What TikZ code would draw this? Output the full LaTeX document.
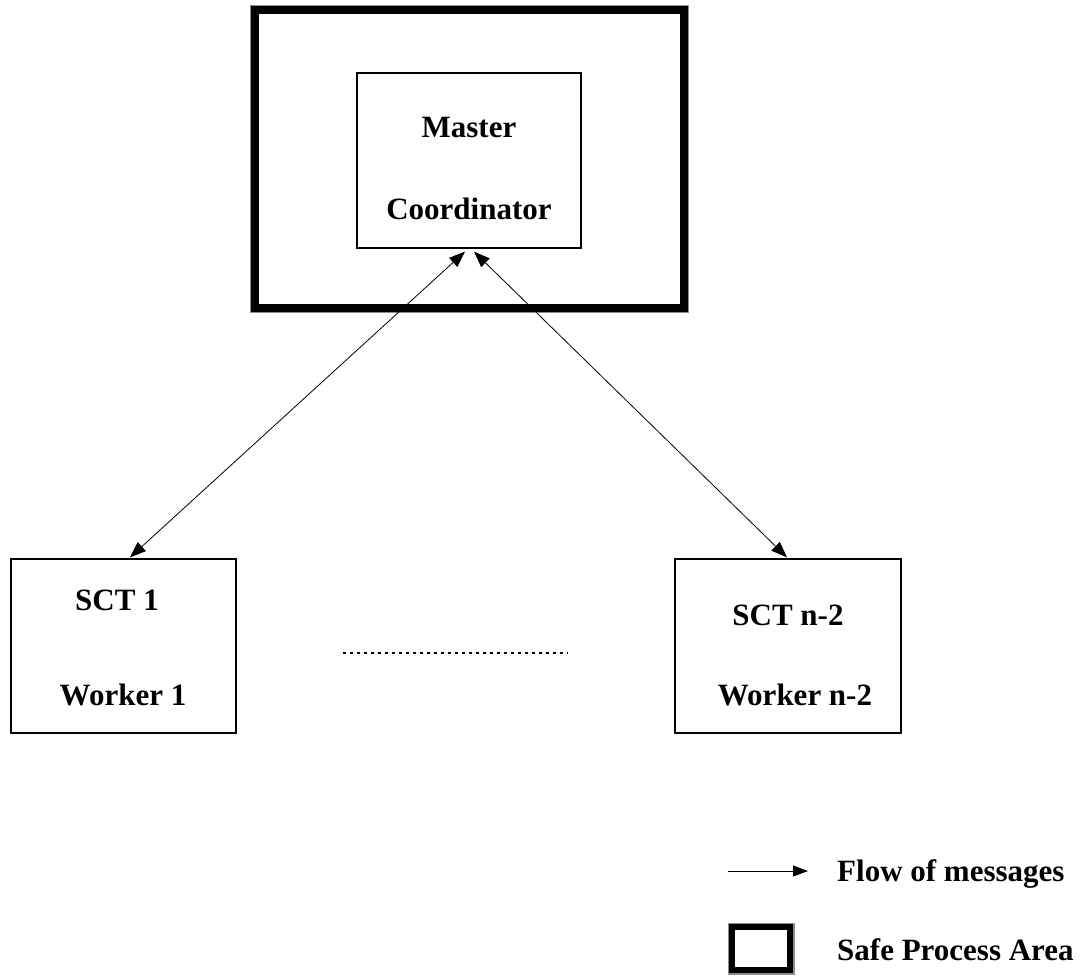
\documentclass[tikz,border=0pt]{standalone}
\usepackage{fontspec}
\setmainfont{Liberation Serif}
\usetikzlibrary{arrows.meta}
\begin{document}
\begin{tikzpicture}[x=1pt,y=-1pt,
  lbl/.style={font=\fontsize{31}{34}\selectfont\bfseries, inner sep=0pt, anchor=base},
  lbll/.style={font=\fontsize{31}{34}\selectfont\bfseries, inner sep=0pt, anchor=base west},
  plainbox/.style={draw=black, line width=1.2pt, inner sep=0pt},
  safebox/.style={draw=black, line width=8pt},
  safeedge/.style={draw=black!45, line width=1.5pt},
  msg/.style={line width=0.8pt, {Triangle[length=16pt,width=12pt]}-{Triangle[length=16pt,width=12pt]}},
  msgone/.style={line width=1pt, -{Triangle[length=15pt,width=11pt]}},
  dotline/.style={line width=2.5pt, dash pattern=on 2.5pt off 4.5pt}]
\useasboundingbox (0,0) rectangle (1086,976);

% safe process area around the master
\path[safebox] (255,10) rectangle (684,308);
\path[safeedge] (250.5,5.5) rectangle (688.5,312.5);

% master coordinator
\node[plainbox, minimum width=224pt, minimum height=175pt] (master) at (469,160.5) {};
\node[lbl] (mastert1) at (469,138) {Master};
\node[lbl] (mastert2) at (469,220) {Coordinator};

% workers
\node[plainbox, minimum width=225pt, minimum height=174pt] (sct1) at (123.5,646) {};
\node[lbl] (sct1a) at (117,610) {SCT 1};
\node[lbl] (sct1b) at (123,705) {Worker 1};

\node[plainbox, minimum width=226pt, minimum height=174pt] (sctn) at (788,646) {};
\node[lbl] (sctna) at (788,625) {SCT n-2};
\node[lbl] (sctnb) at (795,705) {Worker n-2};

% message flows
\draw[msg] ([xshift=-4pt,yshift=-3pt]master.south) -- ([xshift=6.5pt,yshift=1pt]sct1.north);
\draw[msg] ([xshift=5pt,yshift=-3pt]master.south) -- ([xshift=-1pt,yshift=1pt]sctn.north);

% ellipsis between workers
\coordinate (dotsL) at (343,653);
\coordinate (dotsR) at (568,653);
\draw[dotline] (dotsL) -- (dotsR);

% legend
\coordinate (legA) at (728,871);
\coordinate (legB) at (808,871);
\draw[msgone] (legA) -- (legB);
\node[lbll] (legtxt1) at (837,881) {Flow of messages};

\path[draw=black, line width=6pt] (732,927) rectangle (790,970);
\path[draw=black!45, line width=1.2pt] (728.5,923.5) rectangle (794,974);
\node[lbll] (legtxt2) at (837,960) {Safe Process Area};
\end{tikzpicture}
\end{document}
